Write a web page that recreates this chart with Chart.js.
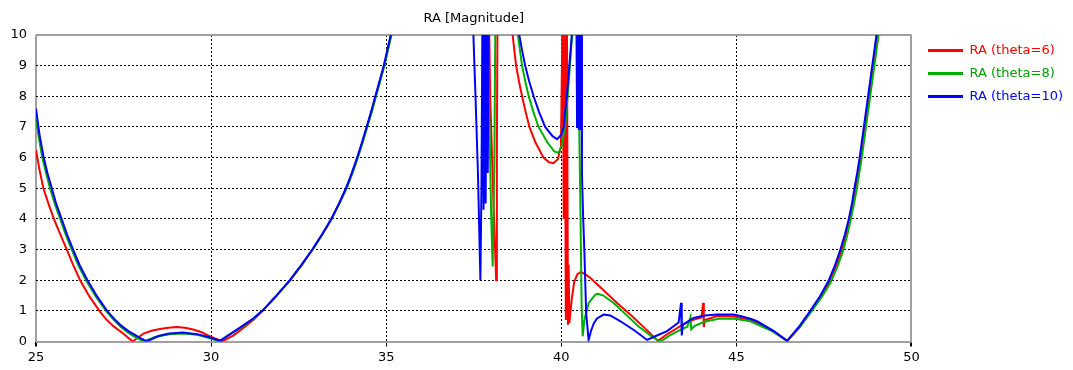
<!DOCTYPE html>
<html>
<head>
<meta charset="utf-8">
<script src="https://cdn.jsdelivr.net/npm/chart.js@4/dist/chart.umd.min.js"></script>
<style>
  html, body { margin: 0; padding: 0; background: #ffffff; }
  #wrap { width: 1073px; height: 370px; position: relative; }
</style>
</head>
<body>
<div id="wrap"><canvas id="c"></canvas></div>
<script>
// ---- data ----
const chartTitle = 'RA [Magnitude]';
const seriesNames = ['RA (theta=6)', 'RA (theta=8)', 'RA (theta=10)'];
const xTickValues = [25, 30, 35, 40, 45, 50];
const yTickValues = [0, 1, 2, 3, 4, 5, 6, 7, 8, 9, 10];

const x_theta6 = [25, 25.1, 25.21, 25.36, 25.51, 25.7, 25.88, 26.06, 26.26, 26.52, 26.81, 27.0, 27.21, 27.48, 27.76, 28.07, 28.3, 28.54, 28.78, 29.02, 29.25, 29.49, 29.73, 29.97, 30.15, 30.33,
  30.64, 30.93, 31.22, 31.47, 31.86, 32.26, 32.59, 32.9, 33.18, 33.44, 33.66, 33.86, 34.03, 34.18, 34.32, 34.45, 34.58, 34.7, 34.82, 34.94, 35.04, 35.14, 35.23,
  37.93, 37.97, 38.05, 38.14, 38.16, 38.18,
  38.55, 38.61, 38.66, 38.71, 38.79, 38.88, 38.98, 39.09, 39.26, 39.49, 39.65, 39.78, 39.9, 39.99,
  40.04, 40.07, 40.1, 40.13, 40.16, 40.19, 40.21, 40.23, 40.3, 40.37, 40.46, 40.56, 40.7, 40.8, 41.2, 41.6, 42.0, 42.4, 42.76, 43.0, 43.4, 43.7, 44.0, 44.05, 44.07, 44.1, 44.45, 44.9, 45.4, 46.0, 46.45,
  46.8, 47.12, 47.41, 47.66, 47.85, 48.0, 48.13, 48.24, 48.33, 48.4, 48.48, 48.55, 48.61, 48.67, 48.73, 48.79, 48.85, 48.91, 48.97, 49.03, 49.09];
const y_theta6 = [6.25, 5.6, 5.0, 4.48, 4.0, 3.48, 3.0, 2.5, 2.0, 1.48, 1.0, 0.73, 0.5, 0.27, 0, 0.26, 0.35, 0.41, 0.45, 0.47, 0.45, 0.39, 0.3, 0.17, 0.08, 0.01,
  0.2, 0.45, 0.72, 1.0, 1.48, 2.0, 2.5, 3.0, 3.5, 4.0, 4.5, 5.0, 5.5, 6.0, 6.5, 7.0, 7.5, 8.0, 8.5, 9.0, 9.5, 10.0, 10.5,
  11, 8, 5, 2.0, 6, 11,
  11, 10, 9.5, 9, 8.5, 8, 7.5, 7, 6.5, 6, 5.85, 5.82, 5.95, 6.36,
  11, 4, 11, 0.7, 11, 0.55, 2.5, 0.6, 1.4, 1.95, 2.2, 2.27, 2.18, 2.1, 1.68, 1.25, 0.85, 0.42, 0.02, 0.22, 0.5, 0.68, 0.78, 1.26, 0.47, 0.7, 0.83, 0.82, 0.7, 0.38, 0.02,
  0.45, 0.97, 1.45, 1.95, 2.45, 2.95, 3.45, 4.0, 4.5, 5.0, 5.5, 6.0, 6.5, 7.0, 7.5, 8.0, 8.5, 9.0, 9.5, 10.0, 10.5];

const x_theta8 = [25, 25.08, 25.18, 25.29, 25.4, 25.54, 25.69, 25.85, 26.02, 26.21, 26.43, 26.7, 27.0, 27.2, 27.4, 27.58, 27.75, 27.92, 28.07, 28.4, 28.8, 29.2, 29.6, 30.0, 30.21,
  30.6, 30.92, 31.22, 31.47, 31.86, 32.26, 32.59, 32.9, 33.18, 33.44, 33.66, 33.87, 34.04, 34.19, 34.33, 34.46, 34.59, 34.71, 34.83, 34.95, 35.05, 35.15, 35.24,
  37.9, 37.95, 38.0, 38.04, 38.09, 38.12,
  38.7, 38.76, 38.82, 38.88, 38.97, 39.07, 39.2, 39.35, 39.6, 39.8, 39.92, 40.02, 40.11, 40.2, 40.31, 40.36,
  40.46, 40.5, 40.55, 40.58, 40.61, 40.66, 40.78, 40.97, 41.05, 41.2, 41.5, 41.78, 42.2, 42.6, 42.83, 43.1, 43.4, 43.6, 43.69, 43.71, 43.8, 44.1, 44.5, 44.92, 45.4, 46.0, 46.45,
  46.8, 47.12, 47.42, 47.68, 47.87, 48.03, 48.16, 48.27, 48.36, 48.44, 48.51, 48.58, 48.64, 48.7, 48.76, 48.82, 48.88, 48.94, 49.0, 49.06, 49.12];
const y_theta8 = [7.35, 6.65, 6.0, 5.48, 5.0, 4.48, 4.0, 3.48, 3.0, 2.48, 2.0, 1.48, 1.0, 0.73, 0.5, 0.33, 0.2, 0.09, 0, 0.15, 0.24, 0.26, 0.22, 0.1, 0.0,
  0.28, 0.5, 0.75, 1.0, 1.48, 2.0, 2.5, 3.0, 3.5, 4.0, 4.5, 5.0, 5.5, 6.0, 6.5, 7.0, 7.5, 8.0, 8.5, 9.0, 9.5, 10.0, 10.5,
  11, 7, 4, 2.45, 6, 11,
  11, 10, 9.5, 9, 8.5, 8, 7.5, 7, 6.5, 6.2, 6.15, 6.4, 7, 8.3, 10, 11,
  11, 8, 4, 1.2, 0.17, 0.7, 1.25, 1.53, 1.56, 1.5, 1.25, 0.95, 0.5, 0.15, 0.0, 0.2, 0.38, 0.48, 0.8, 0.4, 0.5, 0.65, 0.74, 0.75, 0.66, 0.35, 0.02,
  0.45, 0.95, 1.42, 1.9, 2.4, 2.9, 3.45, 4.0, 4.5, 5.0, 5.5, 6.0, 6.5, 7.0, 7.5, 8.0, 8.5, 9.0, 9.5, 10.0, 10.5];

const x_theta10 = [25, 25.1, 25.22, 25.33, 25.45, 25.58, 25.73, 25.89, 26.06, 26.25, 26.47, 26.74, 27.03, 27.24, 27.45, 27.65, 27.85, 28.01, 28.16, 28.5, 28.8, 29.2, 29.6, 30.0, 30.26,
  30.6, 30.91, 31.21, 31.46, 31.85, 32.25, 32.58, 32.89, 33.17, 33.43, 33.65, 33.85, 34.02, 34.17, 34.31, 34.44, 34.57, 34.69, 34.81, 34.93, 35.03, 35.13, 35.22,
  37.45, 37.49, 37.55, 37.62, 37.69, 37.72, 37.75, 37.78, 37.81, 37.84, 37.87, 37.9, 37.93,
  38.74, 38.8, 38.88, 38.97, 39.08, 39.21, 39.36, 39.54, 39.75, 39.88, 40.0, 40.07, 40.18, 40.3, 40.33,
  40.43, 40.45, 40.47, 40.5, 40.52, 40.55, 40.57, 40.59, 40.62, 40.66, 40.71, 40.78, 40.85, 40.93, 41.02, 41.21, 41.4, 41.69, 42.1, 42.45, 42.7, 43.02, 43.35, 43.42, 43.44, 43.47, 43.78, 44.1, 44.45, 44.92, 45.11, 45.4, 45.59, 46.07, 46.45,
  46.8, 47.11, 47.4, 47.64, 47.82, 47.97, 48.1, 48.21, 48.3, 48.37, 48.45, 48.52, 48.58, 48.64, 48.7, 48.76, 48.82, 48.88, 48.94, 49.0, 49.06];
const y_theta10 = [7.6, 6.75, 6.0, 5.48, 5.0, 4.48, 4.0, 3.48, 3.0, 2.48, 2.0, 1.48, 1.0, 0.73, 0.5, 0.33, 0.2, 0.09, 0, 0.18, 0.26, 0.29, 0.24, 0.12, 0.02,
  0.28, 0.52, 0.76, 1.0, 1.48, 2.0, 2.5, 3.0, 3.5, 4.0, 4.5, 5.0, 5.5, 6.0, 6.5, 7.0, 7.5, 8.0, 8.5, 9.0, 9.5, 10.0, 10.5,
  11, 10, 8, 5.5, 2.0, 5, 11, 4.3, 11, 4.5, 11, 5.5, 11,
  11, 10, 9.5, 9, 8.5, 8, 7.5, 7, 6.7, 6.6, 6.75, 7.0, 8.3, 10, 11,
  11, 7, 11, 6.9, 11, 6.9, 11, 5.5, 4.2, 2.9, 0.93, 0.05, 0.35, 0.6, 0.75, 0.88, 0.85, 0.66, 0.35, 0.05, 0.18, 0.34, 0.62, 1.26, 0.2, 0.55, 0.77, 0.85, 0.88, 0.88, 0.83, 0.74, 0.66, 0.34, 0.02,
  0.5, 1.0, 1.5, 2.0, 2.5, 3.0, 3.5, 4.0, 4.5, 5.0, 5.5, 6.0, 6.5, 7.0, 7.5, 8.0, 8.5, 9.0, 9.5, 10.0, 10.5];

const seriesColors = ['#ff0000', '#00b000', '#0000ff'];
const seriesTextColors = ['#ff0000', '#00a000', '#0000ff'];

// ---- build chart ----
const toPoints = (xs, ys) => xs.map((x, i) => ({ x: x, y: ys[i] }));
const xsList = [x_theta6, x_theta8, x_theta10];
const ysList = [y_theta6, y_theta8, y_theta10];

Chart.defaults.font.family = "'DejaVu Sans', Verdana, sans-serif";
Chart.defaults.font.size = 13;
Chart.defaults.color = '#000000';

const GRID_EDGE = '#a0a0a0';
const GRID_DOT = '#000000';

const datasets = seriesNames.map((name, i) => ({
  label: name,
  data: toPoints(xsList[i], ysList[i]),
  borderColor: seriesColors[i],
  backgroundColor: seriesColors[i],
  borderWidth: 2,
  pointRadius: 0,
  tension: 0,
  fill: false,
  order: 2 - i,
  xAxisID: 'x',
  yAxisID: 'y'
}));

const isEdgeX = (ctx) => ctx.tick && (ctx.tick.value === 25 || ctx.tick.value === 50);
const isEdgeY = (ctx) => ctx.tick && (ctx.tick.value === 0 || ctx.tick.value === 10);

new Chart(document.getElementById('c'), {
  type: 'line',
  data: { datasets: datasets },
  options: {
    responsive: true,
    maintainAspectRatio: false,
    animation: false,
    layout: { padding: { left: 0, right: 0, top: 0, bottom: 0 } },
    plugins: {
      title: {
        display: true,
        text: chartTitle,
        fullSize: false,
        font: { size: 13, weight: 'normal' },
        color: '#000000',
        padding: { top: 11, bottom: 8.4 }
      },
      legend: {
        display: true,
        position: 'right',
        align: 'start',
        title: { display: true, text: '', font: { size: 10 }, padding: { top: 22, bottom: 0 } },
        labels: {
          boxWidth: 35,
          boxHeight: 3,
          padding: 10,
          font: { size: 13 },
          generateLabels: function (chart) {
            const items = Chart.defaults.plugins.legend.labels.generateLabels(chart);
            items.sort((a, b) => a.datasetIndex - b.datasetIndex);
            items.forEach(it => {
              it.fillStyle = seriesColors[it.datasetIndex];
              it.strokeStyle = seriesColors[it.datasetIndex];
              it.lineWidth = 0;
              it.fontColor = seriesTextColors[it.datasetIndex];
            });
            return items;
          }
        }
      },
      tooltip: { enabled: false }
    },
    scales: {
      x: {
        type: 'linear',
        min: 25,
        max: 50,
        afterBuildTicks: (s) => { s.ticks = xTickValues.map(v => ({ value: v })); },
        afterFit: (s) => { s.height = 28.5; },
        ticks: { padding: 3, maxRotation: 0, autoSkip: false, font: { size: 13 }, color: '#000' },
        grid: {
          drawTicks: true,
          tickLength: 5,
          tickColor: '#000000',
          tickBorderDash: [],
          color: (ctx) => isEdgeX(ctx) ? GRID_EDGE : GRID_DOT,
          lineWidth: (ctx) => isEdgeX(ctx) ? 2 : 1
        },
        border: {
          display: false,
          dash: (ctx) => isEdgeX(ctx) ? [] : [2, 2]
        }
      },
      y: {
        type: 'linear',
        min: 0,
        max: 10,
        afterBuildTicks: (s) => { s.ticks = yTickValues.map(v => ({ value: v })); },
        afterFit: (s) => { s.width = 36; },
        ticks: { padding: 9, font: { size: 13 }, color: '#000' },
        grid: {
          drawTicks: false,
          color: (ctx) => isEdgeY(ctx) ? GRID_EDGE : GRID_DOT,
          lineWidth: (ctx) => isEdgeY(ctx) ? 2 : 1
        },
        border: {
          display: false,
          dash: (ctx) => isEdgeY(ctx) ? [] : [2, 2]
        }
      },
      // empty spacer between plot frame and legend
      gap: {
        type: 'linear',
        position: 'right',
        min: 0,
        max: 10,
        afterFit: (s) => { s.width = 6.5; },
        ticks: { display: false },
        grid: { display: false, drawTicks: false },
        border: { display: false }
      }
    }
  }
});
</script>
</body>
</html>
